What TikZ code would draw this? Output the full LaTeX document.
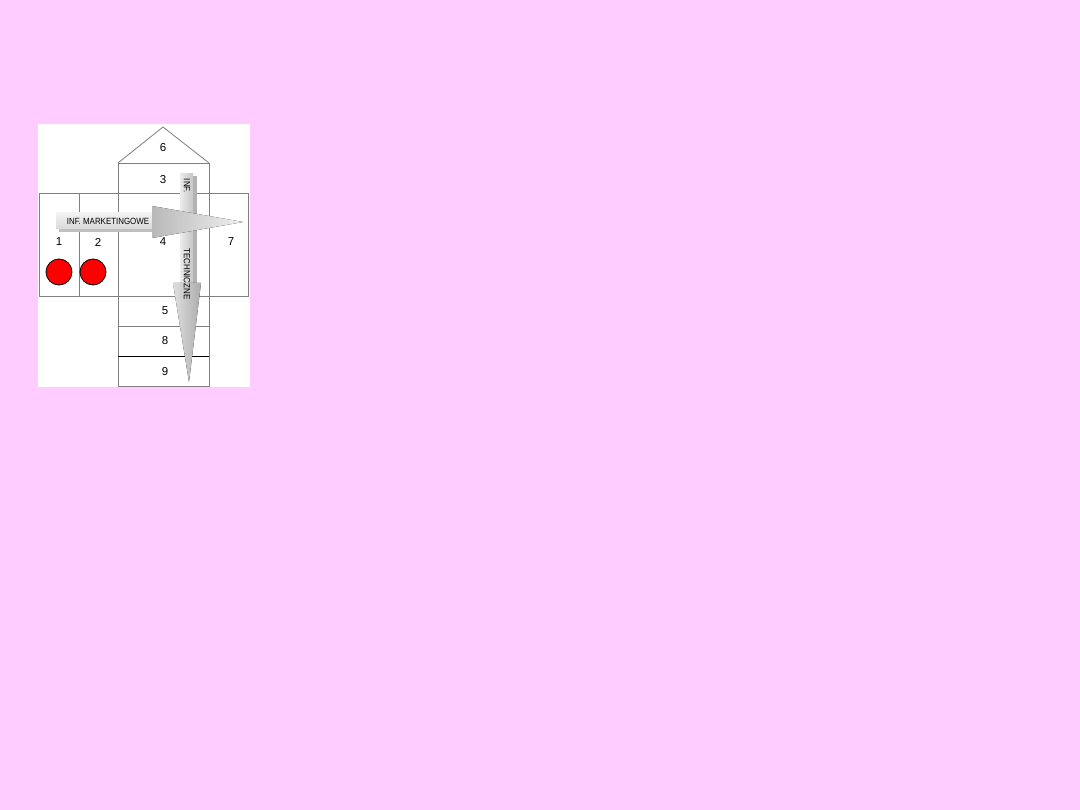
\documentclass[tikz,border=0pt]{standalone}
\usepackage{fontspec}
\setmainfont{Liberation Sans}
\newfontfamily\narrowfont[FakeStretch=0.88]{Liberation Sans}
\usetikzlibrary{calc}
\definecolor{bgpink}{HTML}{FFCCFF}
\definecolor{cellline}{HTML}{808080}
\tikzset{
  cell/.style={draw=cellline, line width=0.8pt},
  num/.style={font=\fontsize{11.5}{11.5}\selectfont, inner sep=0pt},
  small/.style={font=\narrowfont\fontsize{9}{9}\selectfont, inner sep=0pt},
  dot/.style={circle, draw=black, fill=red, line width=0.8pt, minimum size=26pt, inner sep=0pt},
}
\begin{document}
\begin{tikzpicture}[x=1pt,y=-1pt]
\fill[bgpink] (0,0) rectangle (1080,810);
\useasboundingbox (0,0) rectangle (1080,810);
\fill[white] (38,124) rectangle (250,387);
% roof
\draw[cell] (118,163) -- (163,127) -- (209,163);
% cells
\draw[cell] (118,163) rectangle (209,193);
\draw[cell] (39,193) rectangle (79,296);
\draw[cell] (79,193) rectangle (118,296);
\draw[cell] (118,193) rectangle (209,296);
\draw[cell] (209,193) rectangle (248,296);
\draw[cell] (118,296) rectangle (209,326);
\draw[cell] (118,326) rectangle (209,356);
\draw[cell] (118,356) rectangle (209,386);
\draw[black, line width=0.9pt] (118,356) -- (209,356);
% labels
\node[num] (n6) at (163,148) {6};
\node[num] (n3) at (163,180) {3};
\node[num] (n1) at (59,242) {1};
\node[num] (n2) at (98,242) {2};
\node[num] (n4) at (163,242) {4};
\node[num] (n7) at (231,242) {7};
\node[num] (n5) at (165,311) {5};
\node[num] (n8) at (165,341) {8};
\node[num] (n9) at (165,372) {9};
\node[dot] (c1) at (59,272) {};
\node[dot] (c2) at (93,272) {};
% vertical arrow (shadow + body)
\fill[gray!60] (192,176) rectangle (197,284);
\fill[left color=gray!15, right color=gray!45] (180,174) rectangle (193,284);
\fill[left color=gray!25, right color=gray!65] (173,283) -- (201,283) -- (189,382) -- cycle;
\node[small, rotate=-90] (vinf) at (187,186) {INF.};
\node[small, rotate=-90] (vtech) at (187,274) {TECHNICZNE};
% horizontal arrow
\fill[gray!50] (59,228) rectangle (155,232);
\fill[top color=gray!10, bottom color=gray!30] (56,213) rectangle (155,229);
\fill[left color=gray!55, right color=gray!12] (152,206) -- (243,222) -- (152,238) -- cycle;
\node[small] (hinf) at (108,221) {INF. MARKETINGOWE};
\end{tikzpicture}
\end{document}
